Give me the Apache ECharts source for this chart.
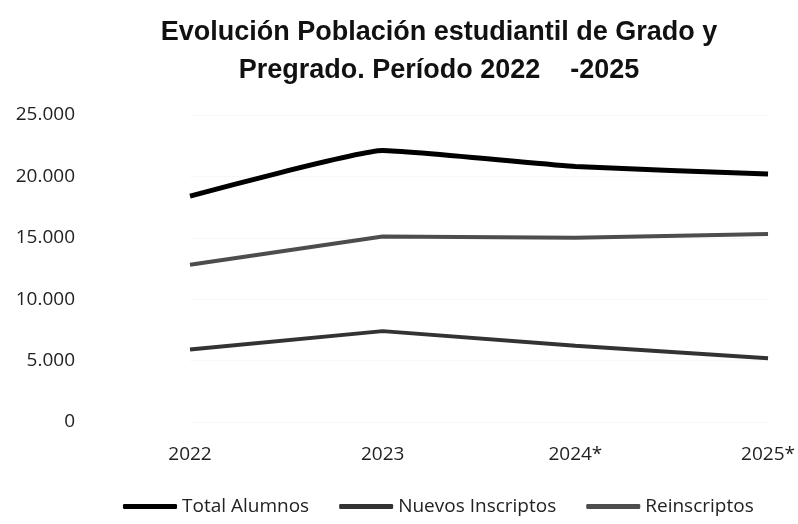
<!DOCTYPE html>
<html>
<head>
<meta charset="utf-8">
<script src="https://cdn.jsdelivr.net/npm/echarts@6/dist/echarts.min.js"></script>
<style>
  html, body { margin: 0; padding: 0; background: #fff; }
  #chart { width: 798px; height: 524px; }
</style>
</head>
<body>
<div id="chart"></div>
<script>
// ---- data ----
const years = ['2022', '2023', '2024*', '2025*'];
const totalAlumnos = [18400, 22100, 20800, 20200];
const nuevosInscriptos = [5900, 7400, 6200, 5200];
const reinscriptos = [12800, 15100, 15000, 15300];
const yTicks = { min: 0, max: 25000, interval: 5000 };

const titleLines = ['Evolución Población estudiantil de Grado y', 'Pregrado. Período 2022    -2025'];
const seriesNames = ['Total Alumnos', 'Nuevos Inscriptos', 'Reinscriptos'];

function fmtThousands(v) {
  return String(v).replace(/\B(?=(\d{3})+(?!\d))/g, '.');
}

const chart = echarts.init(document.getElementById('chart'), null, { renderer: 'canvas' });

const labelFont = 'Open Sans';

chart.setOption({
  backgroundColor: '#ffffff',
  animation: false,
  title: {
    text: titleLines.join('\n'),
    left: 434,
    textAlign: 'center',
    top: 9,
    textStyle: {
      fontFamily: 'Liberation Sans',
      fontWeight: 'bold',
      fontSize: 27,
      lineHeight: 38,
      color: '#111'
    }
  },
  grid: {
    left: 190,
    right: 22,
    top: 115,
    bottom: 102,
    containLabel: false
  },
  legend: {
    data: seriesNames,
    left: 118,
    top: 492,
    itemWidth: 54,
    itemHeight: 5,
    itemGap: 30,
    icon: 'roundRect',
    textStyle: {
      fontFamily: labelFont,
      fontSize: 19,
      color: '#222'
    }
  },
  xAxis: {
    type: 'category',
    data: years,
    boundaryGap: false,
    axisLine: { show: false },
    axisTick: { show: false },
    splitLine: { show: false },
    axisLabel: {
      margin: 23,
      fontFamily: labelFont,
      fontSize: 19,
      color: '#222'
    }
  },
  yAxis: {
    type: 'value',
    min: yTicks.min,
    max: yTicks.max,
    interval: yTicks.interval,
    axisLine: { show: false },
    axisTick: { show: false },
    splitLine: {
      show: true,
      lineStyle: { color: '#f0f0f0', type: 'dotted', width: 1 }
    },
    axisLabel: {
      margin: 115,
      fontFamily: labelFont,
      fontSize: 19,
      color: '#222',
      formatter: fmtThousands
    }
  },
  series: [
    {
      name: seriesNames[0],
      type: 'line',
      data: totalAlumnos,
      smooth: 0.12,
      symbol: 'none',
      itemStyle: { color: '#000000' },
      lineStyle: { color: '#000000', width: 5 },
      z: 3
    },
    {
      name: seriesNames[1],
      type: 'line',
      data: nuevosInscriptos,
      symbol: 'none',
      itemStyle: { color: '#333333' },
      lineStyle: { color: '#333333', width: 4 },
      z: 2
    },
    {
      name: seriesNames[2],
      type: 'line',
      data: reinscriptos,
      symbol: 'none',
      itemStyle: { color: '#4d4d4d' },
      lineStyle: { color: '#4d4d4d', width: 4 },
      z: 2
    }
  ]
});
</script>
</body>
</html>
